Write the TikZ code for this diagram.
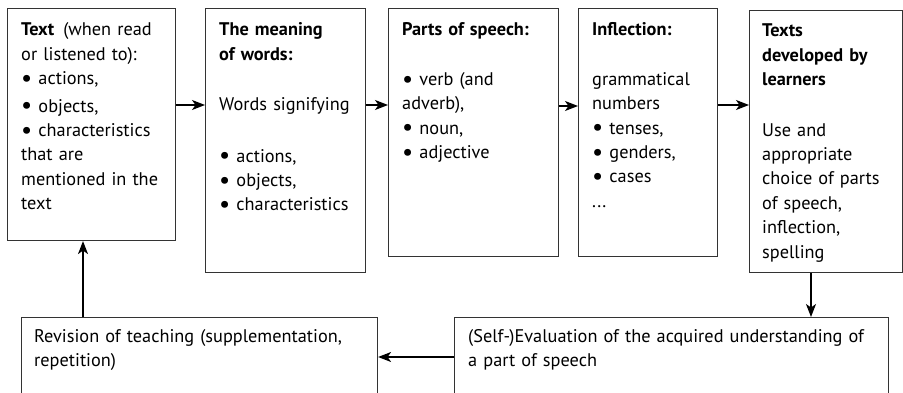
\documentclass[tikz,border=0pt]{standalone}
\usepackage{fontspec}
\setmainfont{PT Sans}
\usetikzlibrary{arrows.meta}

\tikzset{
    stage/.style={draw=black!80, line width=1.1pt, anchor=north west, inner sep=0pt},
    words/.style={anchor=base west, align=left, inner sep=0pt, text width=#1,
        font=\fontsize{18.3}{24.4}\selectfont},
    words/.default=160pt,
    flow/.style={draw=black, line width=1.2pt, -{Stealth[length=13pt,width=10pt,inset=3.5pt]}}
}
\newcommand{\bul}{\raisebox{-0.09em}{\scalebox{1.35}{\textbullet}}\ }

\begin{document}
\begin{tikzpicture}[x=1pt, y=-1pt]
    \useasboundingbox (0,0) rectangle (903,393);

    % the boxes
    \node[stage, minimum width=168pt, minimum height=232pt] (text) at (7,8) {};
    \node[stage, minimum width=160pt, minimum height=264pt] (meaning) at (205,8) {};
    \node[stage, minimum width=170pt, minimum height=248pt] (parts) at (388,8) {};
    \node[stage, minimum width=139pt, minimum height=248pt] (inflect) at (578,8) {};
    \node[stage, minimum width=153pt, minimum height=262pt] (learners) at (749,10) {};
    \node[stage, minimum width=356pt, minimum height=110pt] (revise) at (21,317) {};
    \node[stage, minimum width=434pt, minimum height=110pt] (evaluate) at (454,317) {};

    % what they say
    \node[words] (texttxt) at ([shift={(14pt,-28pt)}]text.north west)
        {\textbf{Text}\, (when read\\ or listened to):\\ \bul actions,\\[3pt] \bul objects,\\ \bul characteristics\\ that are\\ mentioned in the\\ text};
    \node[words] (meaningtxt) at ([shift={(14pt,-28pt)}]meaning.north west)
        {\textbf{The meaning}\\ \textbf{of words:}\\[26pt] Words signifying\\[27pt] \bul actions,\\ \bul objects,\\ \bul characteristics};
    \node[words] (partstxt) at ([shift={(14pt,-28pt)}]parts.north west)
        {\textbf{Parts of speech:}\\[25pt] \bul verb (and\\ adverb),\\ \bul noun,\\ \bul adjective};
    \node[words] (inflecttxt) at ([shift={(14pt,-28pt)}]inflect.north west)
        {\textbf{Inflection:}\\[25pt] grammatical\\ numbers\\ \bul tenses,\\ \bul genders,\\ \bul cases\\ ...};
    \node[words] (learnerstxt) at ([shift={(13pt,-27pt)}]learners.north west)
        {\textbf{Texts}\\ \textbf{developed by}\\ \textbf{learners}\\[26pt] Use and\\ appropriate\\ choice of parts\\ of speech,\\ inflection,\\ spelling};
    \node[words=400pt] (revisetxt) at ([shift={(13pt,-25pt)}]revise.north west)
        {Revision of teaching (supplementation,\\ repetition)};
    \node[words=420pt] (evaluatetxt) at ([shift={(14pt,-25pt)}]evaluate.north west)
        {(Self-)Evaluation of the acquired understanding of\\ a part of speech};

    % arrows
    \draw[flow] ([yshift=-97pt]text.north east) -- ([yshift=-97pt]meaning.north west);
    \draw[flow] ([yshift=-97pt]meaning.north east) -- ([yshift=-97pt]parts.north west);
    \draw[flow] ([yshift=-98pt]parts.north east) -- ([yshift=-98pt]inflect.north west);
    \draw[flow] ([yshift=-97pt]inflect.north east) -- ([yshift=-95pt]learners.north west);
    \draw[flow] ([xshift=62pt]learners.south west) coordinate (down) -- (down |- evaluate.north);
    \draw[flow] ([yshift=-40pt]evaluate.north west) coordinate (back) -- (back -| revise.east);
    \draw[flow] ([xshift=62pt]revise.north west) coordinate (up) -- (up |- text.south);
\end{tikzpicture}
\end{document}
